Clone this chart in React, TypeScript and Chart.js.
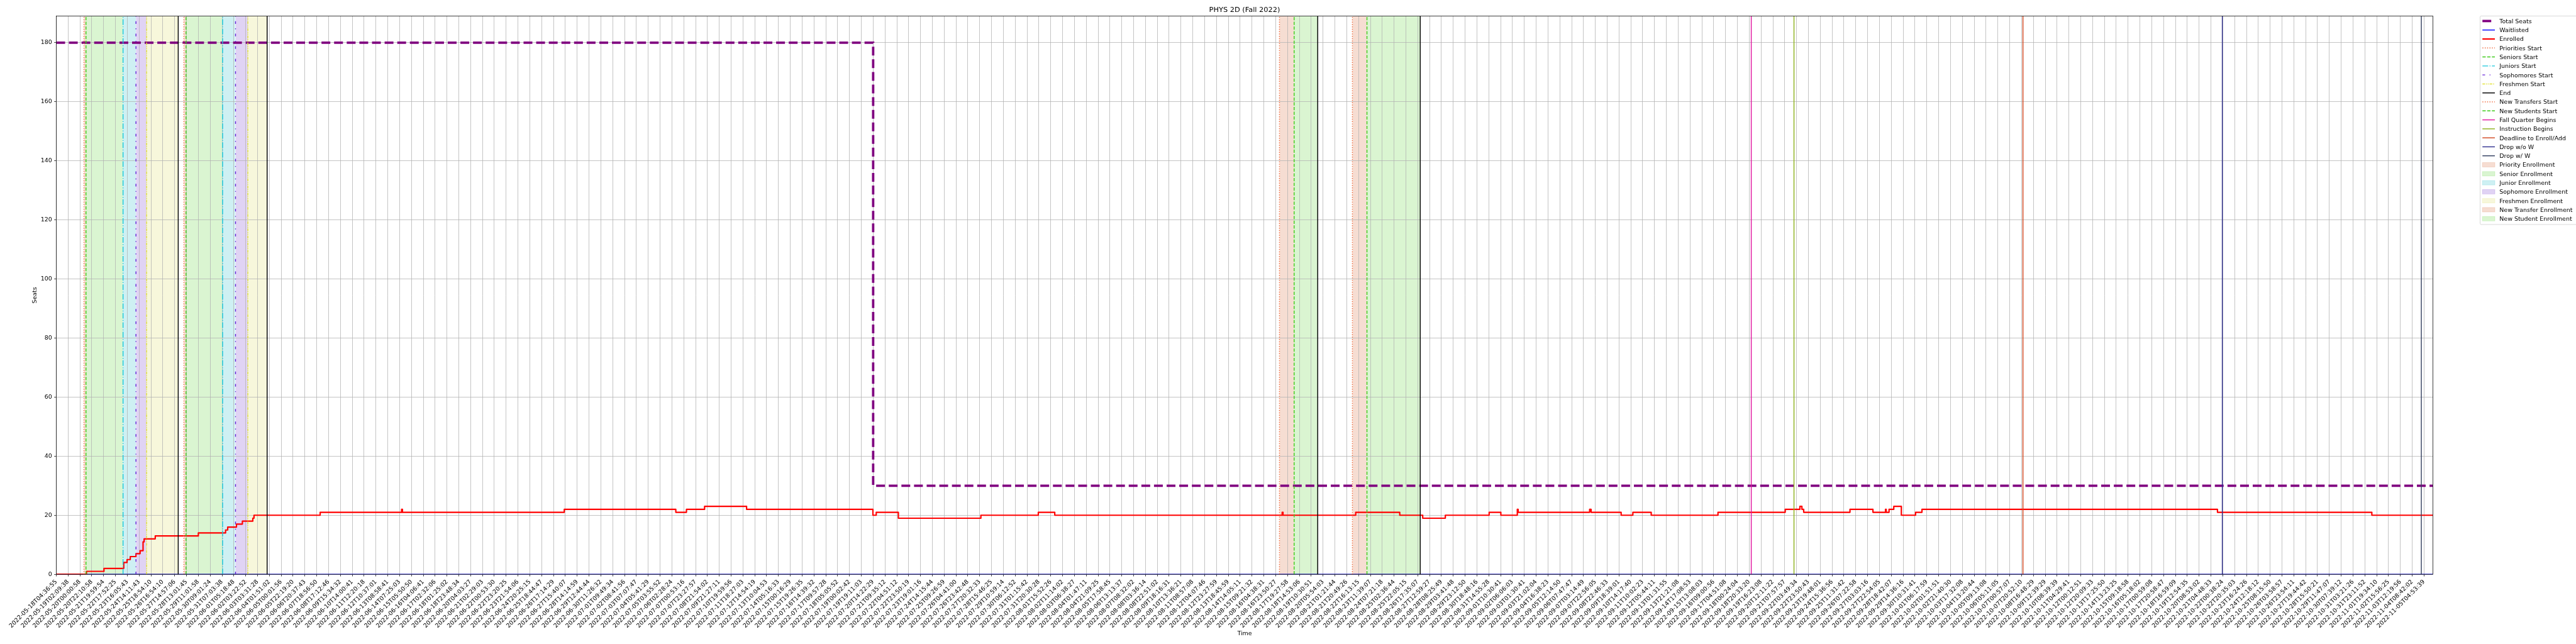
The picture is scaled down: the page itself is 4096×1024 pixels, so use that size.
import React, { useEffect, useRef } from 'react';
import { Chart, registerables } from 'chart.js';

Chart.register(...registerables);
Chart.defaults.font.family = '"DejaVu Sans", sans-serif';

// ---------------- data ----------------
const chartTitle = 'PHYS 2D (Fall 2022)';
const xAxisTitle = 'Time';
const yAxisTitle = 'Seats';

const xTickLabels = [
  '2022-05-18T04:36:55', '2022-05-19T02:09:38', '2022-05-20T00:00:58', '2022-05-20T22:10:58', '2022-05-21T19:59:54',
  '2022-05-22T17:52:25', '2022-05-23T16:05:43', '2022-05-24T14:11:43', '2022-05-25T18:54:10', '2022-05-26T16:54:10',
  '2022-05-27T14:57:06', '2022-05-28T13:01:45', '2022-05-29T11:01:58', '2022-05-30T09:01:24', '2022-05-31T07:03:38',
  '2022-06-01T05:18:48', '2022-06-02T03:22:52', '2022-06-03T03:31:28', '2022-06-04T01:51:02', '2022-06-05T00:01:56',
  '2022-06-05T22:19:20', '2022-06-06T20:37:43', '2022-06-07T18:56:50', '2022-06-08T17:12:46', '2022-06-09T15:34:32',
  '2022-06-10T14:00:41', '2022-06-11T12:20:18', '2022-06-12T10:37:01', '2022-06-13T08:58:41', '2022-06-14T07:25:03',
  '2022-06-15T05:50:50', '2022-06-16T04:06:41', '2022-06-17T02:32:06', '2022-06-18T01:25:02', '2022-06-18T23:48:34',
  '2022-06-20T04:03:27', '2022-06-21T02:29:03', '2022-06-22T00:53:30', '2022-06-22T23:20:25', '2022-06-23T21:54:06',
  '2022-06-24T20:25:15', '2022-06-25T18:44:47', '2022-06-26T17:14:29', '2022-06-27T15:40:07', '2022-06-28T14:14:59',
  '2022-06-29T12:44:44', '2022-06-30T11:26:32', '2022-07-01T09:49:34', '2022-07-02T08:41:56', '2022-07-03T07:07:47',
  '2022-07-04T05:41:29', '2022-07-05T03:55:52', '2022-07-06T02:28:24', '2022-07-07T00:53:16', '2022-07-07T23:27:57',
  '2022-07-08T21:54:02', '2022-07-09T21:27:11', '2022-07-10T19:59:56', '2022-07-11T18:27:03', '2022-07-12T14:54:19',
  '2022-07-13T10:04:53', '2022-07-14T05:16:33', '2022-07-15T00:16:29', '2022-07-15T19:26:35', '2022-07-16T14:39:32',
  '2022-07-17T09:57:28', '2022-07-18T05:05:52', '2022-07-19T00:02:42', '2022-07-19T19:11:03', '2022-07-20T14:22:29',
  '2022-07-21T09:35:12', '2022-07-22T04:51:12', '2022-07-22T23:50:19', '2022-07-23T19:01:16', '2022-07-24T14:15:44',
  '2022-07-25T09:26:59', '2022-07-26T04:41:00', '2022-07-26T23:42:48', '2022-07-27T20:32:33', '2022-07-28T15:46:25',
  '2022-07-29T10:59:14', '2022-07-30T06:12:52', '2022-07-31T01:15:42', '2022-07-31T20:30:28', '2022-08-01T15:52:26',
  '2022-08-02T11:14:02', '2022-08-03T06:38:27', '2022-08-04T01:47:11', '2022-08-04T21:09:25', '2022-08-05T17:58:45',
  '2022-08-06T13:13:37', '2022-08-07T08:32:02', '2022-08-08T03:36:14', '2022-08-08T22:51:02', '2022-08-09T18:16:31',
  '2022-08-10T13:36:21', '2022-08-11T08:57:08', '2022-08-12T04:07:46', '2022-08-12T23:27:59', '2022-08-13T18:45:59',
  '2022-08-14T14:05:11', '2022-08-15T09:21:32', '2022-08-16T04:38:31', '2022-08-16T23:50:27', '2022-08-17T19:27:58',
  '2022-08-18T14:53:06', '2022-08-19T10:30:51', '2022-08-20T05:54:03', '2022-08-21T01:21:44', '2022-08-21T20:49:26',
  '2022-08-22T16:13:15', '2022-08-23T11:39:07', '2022-08-24T07:21:18', '2022-08-25T02:36:44', '2022-08-25T22:05:15',
  '2022-08-26T17:35:07', '2022-08-27T12:59:27', '2022-08-28T08:25:49', '2022-08-29T03:41:48', '2022-08-29T23:12:50',
  '2022-08-30T18:48:16', '2022-08-31T14:55:28', '2022-09-01T10:30:41', '2022-09-02T06:06:03', '2022-09-03T01:30:41',
  '2022-09-03T21:02:04', '2022-09-04T16:38:23', '2022-09-05T12:14:50', '2022-09-06T07:47:47', '2022-09-07T03:14:49',
  '2022-09-07T22:56:05', '2022-09-08T22:46:33', '2022-09-09T18:39:01', '2022-09-10T14:17:40', '2022-09-11T10:02:23',
  '2022-09-12T05:44:11', '2022-09-13T01:31:55', '2022-09-13T21:21:08', '2022-09-14T17:08:53', '2022-09-15T13:08:03',
  '2022-09-16T09:00:56', '2022-09-17T04:51:08', '2022-09-18T00:24:04', '2022-09-18T20:33:20', '2022-09-19T16:23:08',
  '2022-09-20T12:11:22', '2022-09-21T07:57:57', '2022-09-22T03:49:34', '2022-09-22T23:50:43', '2022-09-23T19:48:01',
  '2022-09-24T15:36:56', '2022-09-25T11:31:42', '2022-09-26T07:22:58', '2022-09-27T03:03:16', '2022-09-27T22:54:05',
  '2022-09-28T18:42:07', '2022-09-29T14:36:16', '2022-09-30T10:31:41', '2022-10-01T06:17:59', '2022-10-02T01:51:51',
  '2022-10-02T21:40:30', '2022-10-03T17:32:08', '2022-10-04T13:20:44', '2022-10-05T09:13:08', '2022-10-06T05:11:05',
  '2022-10-07T00:57:07', '2022-10-07T20:52:10', '2022-10-08T16:48:29', '2022-10-09T12:39:29', '2022-10-10T08:39:39',
  '2022-10-11T04:29:41', '2022-10-12T00:12:51', '2022-10-12T20:09:33', '2022-10-13T17:25:50', '2022-10-14T13:23:25',
  '2022-10-15T09:18:58', '2022-10-16T05:18:02', '2022-10-17T00:59:08', '2022-10-17T20:58:47', '2022-10-18T16:59:09',
  '2022-10-19T12:54:35', '2022-10-20T08:53:02', '2022-10-21T04:48:33', '2022-10-22T00:38:24', '2022-10-22T20:35:03',
  '2022-10-23T16:24:26', '2022-10-24T12:18:12', '2022-10-25T08:15:50', '2022-10-26T03:58:57', '2022-10-26T23:54:11',
  '2022-10-27T19:44:42', '2022-10-28T15:50:21', '2022-10-29T11:47:07', '2022-10-30T07:39:12', '2022-10-31T03:21:26',
  '2022-10-31T23:11:52', '2022-11-01T19:34:10', '2022-11-02T15:56:25', '2022-11-03T12:19:56', '2022-11-04T08:42:02',
  '2022-11-05T04:53:39',
];

const yTickValues = [0, 20, 40, 60, 80, 100, 120, 140, 160, 180];
const xMin = 0;
const xMax = 200.75;
const yMin = 0;
const yMax = 189;

// x positions are in tick-index units (tick i sits at x = i)
const totalSeatsX = [0, 69, 200.75];
const totalSeatsY = [180, 30, 30];

const waitlistedX = [0, 200.75];
const waitlistedY = [0, 0];

const enrolledX = [
  0, 2.55, 4.03, 5.7, 5.98, 6.25, 6.73, 7.08, 7.33, 7.42, 8.36, 12.0, 14.3, 14.48, 15.22, 15.72, 16.6, 16.7,
  22.29, 29.17, 29.24, 42.91, 52.33, 53.23, 54.76, 58.31, 68.98, 69.26, 71.13, 78.1, 82.95, 84.34,
  103.55, 103.62, 109.76, 113.48, 115.42, 117.33, 121.03, 122.02, 123.41, 123.48,
  129.52, 129.64, 132.18, 133.17, 134.72, 140.36, 146.04, 147.28, 147.45, 147.6, 151.51, 153.45,
  154.51, 154.57, 154.81, 155.21, 155.85, 157.05, 157.59, 182.55, 195.59, 200.75,
];
const enrolledY = [
  0, 1, 2, 4, 5, 6, 7, 8, 11, 12, 13, 14, 15, 16, 17, 18, 19, 20,
  21, 22, 21, 22, 21, 22, 23, 22, 20, 21, 19, 20, 21, 20,
  21, 20, 21, 20, 19, 20, 21, 20, 22, 21,
  22, 21, 20, 21, 20, 21, 22, 23, 22, 21, 22, 21,
  22, 21, 22, 23, 20, 21, 22, 21, 20, 20,
];

// event markers
const prioritiesStart = [2.34, 10.78];
const seniorsStart = [2.51, 10.96];
const juniorsStart = [5.64, 14.05];
const sophomoresStart = [6.73, 15.14];
const freshmenStart = [7.63, 16.18];
const endMarks = [10.3, 17.81, 106.55, 115.21];
const newTransfersStart = [103.32, 109.48];
const newStudentsStart = [104.56, 110.71];
const fallQuarterBegins = [143.17];
const instructionBegins = [146.78];
const deadlineEnrollAdd = [166.12];
const dropWithoutW = [182.96];
const dropWithW = [199.77];

// enrollment windows [start, end]
const priorityEnrollment = [[2.34, 2.51], [10.78, 10.96]];
const seniorEnrollment = [[2.51, 5.64], [10.96, 14.05]];
const juniorEnrollment = [[5.64, 6.73], [14.05, 15.14]];
const sophomoreEnrollment = [[6.73, 7.63], [15.14, 16.18]];
const freshmenEnrollment = [[7.63, 10.3], [16.18, 17.81]];
const newTransferEnrollment = [[103.32, 104.56], [109.48, 110.71]];
const newStudentEnrollment = [[104.56, 106.55], [110.71, 115.21]];

// ---------------- styling ----------------
const S = 0.682;
const PT = (100 / 72) * S; // one point, in px at this scale
const W = 4096;
const H = 1024;

const PLOT_LEFT = 131.2 * S;
const PLOT_RIGHT = 5672.3 * S;
const PLOT_BOTTOM = 1339 * S;
const PAD_LEFT = 40;
const Y_AXIS_W = PLOT_LEFT - PAD_LEFT;
const X_AXIS_H = H - PLOT_BOTTOM;

const EV_LW = 1.5 * PT;
const scaleDash = (d: number[], lw: number) => d.map((v) => v * lw);
const DOTTED = scaleDash([1, 1.65], EV_LW);
const DASHED = scaleDash([3.7, 1.6], EV_LW);
const DASHDOT = scaleDash([6.4, 1.6, 1, 1.6], EV_LW);
const DASHDOTTED = scaleDash([3, 5, 1, 5], EV_LW);
const DASHDOTDOT = scaleDash([3, 1, 1, 1, 1, 1], EV_LW);

const ORANGE = '#f0683a';
const GREEN = '#40cc1c';

const seriesStyles = [
  { label: 'Total Seats', color: '#800080', width: 4 * PT, dash: scaleDash([3.7, 1.6], 4 * PT) },
  { label: 'Waitlisted', color: '#0000ff', width: 1.5 * PT, dash: [] as number[] },
  { label: 'Enrolled', color: '#ff0000', width: 2.3 * PT, dash: [] as number[] },
];

const eventDefs = [
  { label: 'Priorities Start', xs: prioritiesStart, color: ORANGE, dash: DOTTED },
  { label: 'Seniors Start', xs: seniorsStart, color: GREEN, dash: DASHED },
  { label: 'Juniors Start', xs: juniorsStart, color: '#18c8dc', dash: DASHDOT },
  { label: 'Sophomores Start', xs: sophomoresStart, color: '#6624d8', dash: DASHDOTTED },
  { label: 'Freshmen Start', xs: freshmenStart, color: '#e2e23a', dash: DASHDOTDOT },
  { label: 'End', xs: endMarks, color: '#000000', dash: [] as number[] },
  { label: 'New Transfers Start', xs: newTransfersStart, color: ORANGE, dash: DOTTED },
  { label: 'New Students Start', xs: newStudentsStart, color: GREEN, dash: DASHED },
  { label: 'Fall Quarter Begins', xs: fallQuarterBegins, color: '#e0149e', dash: [] as number[] },
  { label: 'Instruction Begins', xs: instructionBegins, color: '#8db21c', dash: [] as number[] },
  { label: 'Deadline to Enroll/Add', xs: deadlineEnrollAdd, color: '#d2461e', dash: [] as number[] },
  { label: 'Drop w/o W', xs: dropWithoutW, color: '#2e2e8e', dash: [] as number[] },
  { label: 'Drop w/ W', xs: dropWithW, color: '#334060', dash: [] as number[] },
];

const spanDefs = [
  { label: 'Priority Enrollment', spans: priorityEnrollment, fill: 'rgba(210,85,30,0.2)' },
  { label: 'Senior Enrollment', spans: seniorEnrollment, fill: 'rgba(70,205,25,0.2)' },
  { label: 'Junior Enrollment', spans: juniorEnrollment, fill: 'rgba(10,180,195,0.2)' },
  { label: 'Sophomore Enrollment', spans: sophomoreEnrollment, fill: 'rgba(100,35,200,0.2)' },
  { label: 'Freshmen Enrollment', spans: freshmenEnrollment, fill: 'rgba(215,215,75,0.2)' },
  { label: 'New Transfer Enrollment', spans: newTransferEnrollment, fill: 'rgba(210,85,30,0.2)' },
  { label: 'New Student Enrollment', spans: newStudentEnrollment, fill: 'rgba(70,205,25,0.2)' },
];

const toPoints = (xs: number[], ys: number[]) => xs.map((x, i) => ({ x, y: ys[i] }));

function buildDatasets() {
  const ds: any[] = [];
  eventDefs.forEach((ev) => {
    ev.xs.forEach((x) => {
      ds.push({
        label: ev.label,
        data: [{ x, y: yMin }, { x, y: yMax }],
        borderColor: ev.color,
        borderWidth: EV_LW,
        borderDash: ev.dash,
        borderCapStyle: 'butt',
        pointRadius: 0,
        fill: false,
        order: 0,
      });
    });
  });
  const [seats, wait, enr] = seriesStyles;
  ds.push({
    label: enr.label,
    data: toPoints(enrolledX, enrolledY),
    borderColor: enr.color,
    borderWidth: enr.width,
    stepped: 'before',
    borderJoinStyle: 'round',
    pointRadius: 0,
    fill: false,
    order: 1,
  });
  ds.push({
    label: wait.label,
    data: toPoints(waitlistedX, waitlistedY),
    borderColor: wait.color,
    borderWidth: wait.width,
    pointRadius: 0,
    fill: false,
    order: 2,
  });
  ds.push({
    label: seats.label,
    data: toPoints(totalSeatsX, totalSeatsY),
    borderColor: seats.color,
    borderWidth: seats.width,
    borderDash: seats.dash,
    borderCapStyle: 'butt',
    stepped: 'before',
    pointRadius: 0,
    fill: false,
    order: 3,
  });
  spanDefs.forEach((sp) => {
    sp.spans.forEach(([a, b]) => {
      ds.push({
        label: sp.label,
        data: [{ x: a, y: yMax }, { x: b, y: yMax }],
        borderWidth: 0,
        borderColor: 'rgba(0,0,0,0)',
        backgroundColor: sp.fill,
        fill: 'origin',
        pointRadius: 0,
        order: 10,
      });
    });
  });
  return ds;
}

const legendEntries: any[] = [
  ...seriesStyles.map((s) => ({ kind: 'line', label: s.label, color: s.color, width: s.width, dash: s.dash })),
  ...eventDefs.map((e) => ({ kind: 'line', label: e.label, color: e.color, width: EV_LW, dash: e.dash })),
  ...spanDefs.map((s) => ({ kind: 'patch', label: s.label, fill: s.fill })),
];

const framePlugin = {
  id: 'mplFrame',
  afterDatasetsDraw(chart: any) {
    const { ctx, chartArea: a } = chart;
    ctx.save();
    ctx.setLineDash([]);
    ctx.strokeStyle = '#000';
    ctx.lineWidth = 0.8 * PT;
    ctx.strokeRect(a.left, a.top, a.right - a.left, a.bottom - a.top);
    ctx.restore();
  },
};

const legendPlugin = {
  id: 'mplLegend',
  afterDraw(chart: any) {
    const { ctx, chartArea: a } = chart;
    const fl = a.right + 110 * S;
    const ft = a.top - 0.2 * S;
    const rowH = 20.95 * S;
    const firstRow = 11.7 * S;
    const n = legendEntries.length;
    const fh = firstRow + (n - 1) * rowH + 13.5 * S;
    const fw = 400;
    const r = 2.5 * S;
    ctx.save();
    ctx.beginPath();
    ctx.moveTo(fl + r, ft);
    ctx.lineTo(fl + fw, ft);
    ctx.lineTo(fl + fw, ft + fh);
    ctx.lineTo(fl + r, ft + fh);
    ctx.arcTo(fl, ft + fh, fl, ft + fh - r, r);
    ctx.lineTo(fl, ft + r);
    ctx.arcTo(fl, ft, fl + r, ft, r);
    ctx.closePath();
    ctx.fillStyle = 'rgba(255,255,255,0.8)';
    ctx.fill();
    ctx.strokeStyle = '#cccccc';
    ctx.lineWidth = 0.8 * PT;
    ctx.stroke();

    const hx0 = fl + 5.4 * S;
    const hlen = 29 * S;
    const tx = fl + 45 * S;
    const fontSize = 10 * PT;
    legendEntries.forEach((e, i) => {
      const cy = ft + firstRow + i * rowH;
      if (e.kind === 'line') {
        ctx.beginPath();
        ctx.setLineDash(e.dash);
        ctx.lineDashOffset = 0;
        ctx.lineCap = 'butt';
        ctx.strokeStyle = e.color;
        ctx.lineWidth = e.width;
        ctx.moveTo(hx0, cy);
        ctx.lineTo(hx0 + hlen, cy);
        ctx.stroke();
      } else {
        const hh = 10.3 * S;
        ctx.setLineDash([]);
        ctx.fillStyle = e.fill;
        ctx.fillRect(hx0, cy - hh / 2, hlen, hh);
        ctx.strokeStyle = e.fill;
        ctx.lineWidth = 0.8;
        ctx.strokeRect(hx0, cy - hh / 2, hlen, hh);
      }
      ctx.setLineDash([]);
      ctx.fillStyle = '#000';
      ctx.font = `${fontSize}px "DejaVu Sans"`;
      ctx.textAlign = 'left';
      ctx.textBaseline = 'alphabetic';
      ctx.fillText(e.label, tx, cy + 0.36 * fontSize);
    });
    ctx.restore();
  },
};

export default function App() {
  const canvasRef = useRef<HTMLCanvasElement | null>(null);

  useEffect(() => {
    document.body.style.margin = '0';
    const canvas = canvasRef.current;
    if (!canvas) return;
    const gridOpts = {
      color: '#b0b0b0',
      lineWidth: 0.8 * PT,
      tickColor: '#000000',
      tickLength: 3.5 * PT,
      tickWidth: 0.8 * PT,
      drawTicks: true,
    };
    const chart = new Chart(canvas, {
      type: 'line',
      data: { datasets: buildDatasets() },
      plugins: [framePlugin, legendPlugin],
      options: {
        responsive: false,
        maintainAspectRatio: false,
        devicePixelRatio: 1,
        animation: false,
        events: [],
        layout: { padding: { left: PAD_LEFT, right: W - PLOT_RIGHT, top: 0, bottom: 0 } },
        plugins: {
          legend: { display: false },
          tooltip: { enabled: false },
          filler: { drawTime: 'beforeDraw' },
          title: {
            display: true,
            text: chartTitle,
            fullSize: false,
            color: '#000',
            font: { size: 12 * PT, weight: 'normal', lineHeight: 1.2 },
            padding: { top: 9.1, bottom: 37.5 * S - 9.1 - 12 * PT * 1.2 },
          },
        },
        scales: {
          x: {
            type: 'linear',
            min: xMin,
            max: xMax,
            afterBuildTicks: (s: any) => {
              s.ticks = xTickLabels.map((_, i) => ({ value: i }));
            },
            afterFit: (s: any) => {
              s.height = X_AXIS_H;
            },
            ticks: {
              autoSkip: false,
              maxRotation: 45,
              minRotation: 45,
              padding: 3.5 * PT,
              color: '#000',
              font: { size: 10 * PT },
              callback: (v: any) => xTickLabels[Math.round(v)] ?? '',
            },
            grid: gridOpts,
            border: { display: false },
            title: {
              display: true,
              text: xAxisTitle,
              color: '#000',
              font: { size: 10 * PT, lineHeight: 1.2 },
              padding: { top: 0, bottom: 11 },
            },
          },
          y: {
            type: 'linear',
            min: yMin,
            max: yMax,
            afterBuildTicks: (s: any) => {
              s.ticks = yTickValues.map((v) => ({ value: v }));
            },
            afterFit: (s: any) => {
              s.width = Y_AXIS_W;
            },
            ticks: {
              padding: 3.5 * PT,
              color: '#000',
              font: { size: 10 * PT },
            },
            grid: gridOpts,
            border: { display: false },
            title: {
              display: true,
              text: yAxisTitle,
              color: '#000',
              font: { size: 10 * PT, lineHeight: 1.2 },
              padding: { top: 9.5, bottom: 0 },
            },
          },
        },
      } as any,
    });
    return () => chart.destroy();
  }, []);

  return (
    <div style={{ position: 'fixed', left: 0, top: 0, width: W, height: H, background: '#fff' }}>
      <canvas ref={canvasRef} width={W} height={H} style={{ display: 'block', width: W, height: H }} />
    </div>
  );
}
